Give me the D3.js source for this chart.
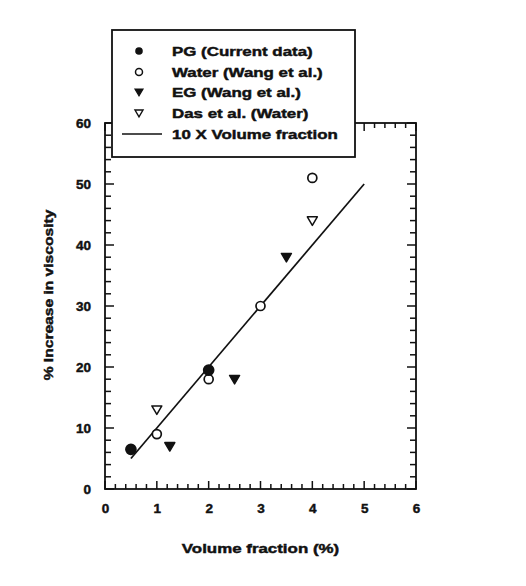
<!DOCTYPE html>
<html>
<head>
<meta charset="utf-8">
<script src="https://cdn.jsdelivr.net/npm/d3@7/dist/d3.min.js"></script>
<style>
  html, body { margin: 0; padding: 0; background: #fff; }
  svg { display: block; }
  text { font-family: "Liberation Sans", Arial, Helvetica, sans-serif; font-weight: bold; fill: #111; stroke: #111; stroke-width: 0.45px; }
</style>
</head>
<body>
<svg id="chart" width="526" height="586"></svg>
<script>
// ---------- data ----------
const pgData    = [[0.5, 6.5], [2, 19.5]];                 // PG (Current data)
const waterData = [[1, 9], [2, 18], [3, 30], [4, 51]];     // Water (Wang et al.)
const egData    = [[1.25, 7], [2.5, 18], [3.5, 38]];       // EG (Wang et al.)
const dasData   = [[1, 13], [4, 44]];                      // Das et al. (Water)
const fitX      = [0.5, 5];                                // 10 X Volume fraction
const fitFactor = 10;
const xTicks    = [0, 1, 2, 3, 4, 5, 6];
const yTicks    = [0, 10, 20, 30, 40, 50, 60];
const legendLabels = ["PG (Current data)", "Water (Wang et al.)", "EG (Wang et al.)", "Das et al. (Water)", "10 X Volume fraction"];
const xTitle = "Volume fraction (%)";
const yTitle = "% Increase in viscosity";

// ---------- layout ----------
const svg = d3.select("#chart");
const L = 105, R = 416, T = 123, B = 489;
const x = d3.scaleLinear().domain([0, 6]).range([L, R]);
const y = d3.scaleLinear().domain([0, 60]).range([B, T]);
const stretch = 1.3;

function wideText(g, tx, ty, str, anchor, size, sx) {
  return g.append("text")
    .attr("transform", `translate(${tx},${ty}) scale(${sx},1)`)
    .attr("text-anchor", anchor)
    .attr("dominant-baseline", "central")
    .style("font-size", size + "px")
    .text(str);
}

// frame
svg.append("rect").attr("x", L).attr("y", T).attr("width", R - L).attr("height", B - T)
  .attr("fill", "none").attr("stroke", "#111").attr("stroke-width", 1.8);

// minor / major ticks (inward, all four sides)
const xMinor = d3.range(0, 6.0001, 0.2);
const yMinor = d3.range(0, 60.0001, 2);
const tickG = svg.append("g").attr("stroke", "#111").attr("stroke-width", 1.5);
xMinor.forEach(v => {
  const major = Math.abs(v - Math.round(v)) < 1e-6;
  const len = major ? 8 : 5;
  tickG.append("line").attr("x1", x(v)).attr("x2", x(v)).attr("y1", B).attr("y2", B - len);
  tickG.append("line").attr("x1", x(v)).attr("x2", x(v)).attr("y1", T).attr("y2", T + len);
});
yMinor.forEach(v => {
  const major = Math.abs(v / 10 - Math.round(v / 10)) < 1e-6;
  const len = major ? 9 : 6;
  tickG.append("line").attr("x1", L).attr("x2", L + len).attr("y1", y(v)).attr("y2", y(v));
  tickG.append("line").attr("x1", R).attr("x2", R - len).attr("y1", y(v)).attr("y2", y(v));
});

// axis tick labels via d3 axes (lines hidden)
const xAxis = svg.append("g").attr("transform", `translate(0,${B})`)
  .call(d3.axisBottom(x).tickValues(xTicks).tickFormat(d3.format("d")).tickSize(0).tickPadding(14));
xAxis.select(".domain").remove();
xAxis.selectAll("text").style("font-size", "13.5px").style("font-family", "Liberation Sans, Arial, sans-serif").style("font-weight", "bold").attr("fill", "#111");

const yAxis = svg.append("g").attr("transform", `translate(${L},0)`)
  .call(d3.axisLeft(y).tickValues(yTicks).tickFormat(d3.format("d")).tickSize(0).tickPadding(14));
yAxis.select(".domain").remove();
yAxis.selectAll("text").style("font-size", "13.5px").style("font-family", "Liberation Sans, Arial, sans-serif").style("font-weight", "bold").attr("fill", "#111");

// axis titles
wideText(svg, (L + R) / 2, 548, xTitle, "middle", 13, stretch);
svg.append("text")
  .attr("transform", `translate(48,${(T + B) / 2 - 11}) rotate(-90) scale(1.2,1)`)
  .attr("text-anchor", "middle").attr("dominant-baseline", "central")
  .style("font-size", "13px").text(yTitle);

// fit line
svg.append("line")
  .attr("x1", x(fitX[0])).attr("y1", y(fitX[0] * fitFactor))
  .attr("x2", x(fitX[1])).attr("y2", y(fitX[1] * fitFactor))
  .attr("stroke", "#111").attr("stroke-width", 1.7);

// symbols
const triDown = (cx, cy, s) => `M${cx - s},${cy - s * 0.75} L${cx + s},${cy - s * 0.75} L${cx},${cy + s * 0.95} Z`;
function circles(data, filled) {
  svg.append("g").selectAll("circle").data(data).join("circle")
    .attr("cx", d => x(d[0])).attr("cy", d => y(d[1])).attr("r", filled ? 5 : 4.5)
    .attr("fill", filled ? "#111" : "#fff").attr("stroke", "#111").attr("stroke-width", 1.7);
}
function tris(data, filled) {
  svg.append("g").selectAll("path").data(data).join("path")
    .attr("d", d => triDown(x(d[0]), y(d[1]), 5))
    .attr("fill", filled ? "#111" : "#fff").attr("stroke", "#111").attr("stroke-width", 1.5)
    .attr("stroke-linejoin", "round");
}
circles(waterData, false);
tris(dasData, false);
tris(egData, true);
circles(pgData, true);

// legend
const lg = svg.append("g");
lg.append("rect").attr("x", 112).attr("y", 30).attr("width", 243).attr("height", 127)
  .attr("fill", "#fff").attr("stroke", "#111").attr("stroke-width", 1.8);
const rowY = [51, 72, 92, 113, 134];
const symX = 139, textX = 172;
lg.append("circle").attr("cx", symX).attr("cy", rowY[0]).attr("r", 3.8).attr("fill", "#111");
lg.append("circle").attr("cx", symX).attr("cy", rowY[1]).attr("r", 3.5).attr("fill", "#fff").attr("stroke", "#111").attr("stroke-width", 1.5);
lg.append("path").attr("d", triDown(symX, rowY[2], 4)).attr("fill", "#111").attr("stroke", "#111").attr("stroke-width", 1.2);
lg.append("path").attr("d", triDown(symX, rowY[3], 4)).attr("fill", "#fff").attr("stroke", "#111").attr("stroke-width", 1.4);
lg.append("line").attr("x1", 122).attr("x2", 162).attr("y1", rowY[4]).attr("y2", rowY[4]).attr("stroke", "#111").attr("stroke-width", 1.6);
legendLabels.forEach((s, i) => wideText(lg, textX, rowY[i], s, "start", 13, stretch));
</script>
</body>
</html>
